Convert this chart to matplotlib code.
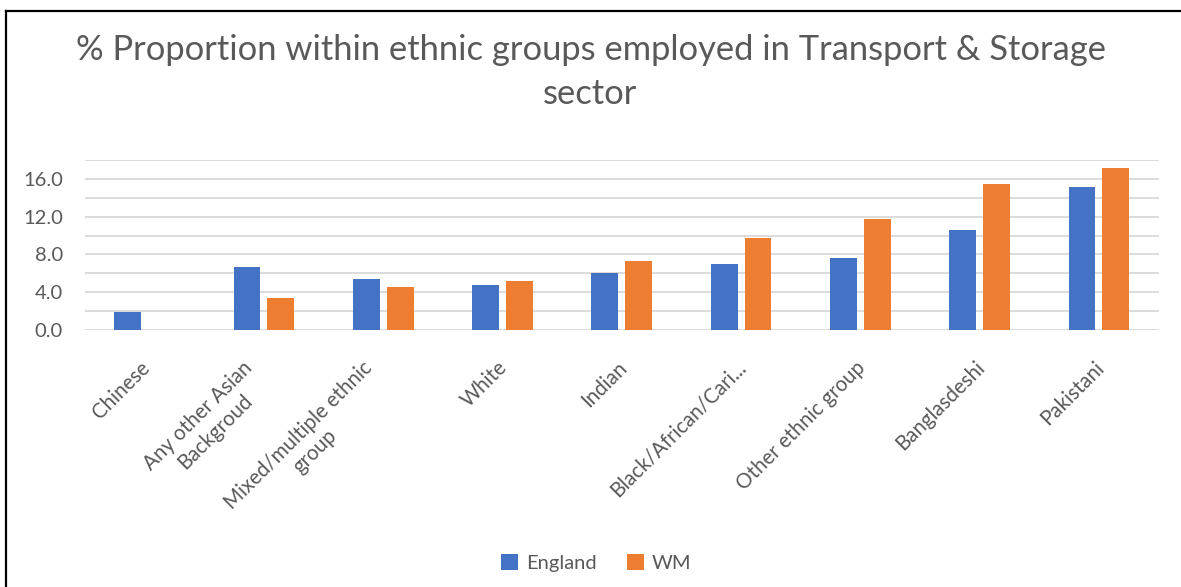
import numpy as np
import matplotlib
matplotlib.use("Agg")
import matplotlib.pyplot as plt
import matplotlib.transforms as mtransforms
from matplotlib.lines import Line2D
from matplotlib.ticker import MultipleLocator

# --- DATA ---
categories = [
    "Chinese",
    "Any other Asian\nBackgroud",
    "Mixed/multiple ethnic\ngroup",
    "White",
    "Indian",
    "Black/African/Cari...",
    "Other ethnic group",
    "Banglasdeshi",
    "Pakistani",
]
england = [1.9, 6.7, 5.4, 4.8, 6.0, 7.0, 7.6, 10.6, 15.2]
wm = [0.0, 3.4, 4.5, 5.2, 7.3, 9.7, 11.8, 15.5, 17.2]

BLUE = "#4472C4"
ORANGE = "#ED7D31"
TEXT = "#595959"
GRID = "#D9D9D9"

plt.rcParams["font.family"] = ["Lato", "DejaVu Sans"]

fig = plt.figure(figsize=(11.81, 5.87), dpi=100)
ax = fig.add_axes([0.072, 0.4383, 0.909, 0.2886])

x = np.arange(len(categories))
width = 0.226
offset = 0.142
ax.bar(x - offset, england, width, color=BLUE, label="England", zorder=3)
ax.bar(x + offset, wm, width, color=ORANGE, label="WM", zorder=3)

ax.set_xlim(-0.5, len(categories) - 0.5)
ax.set_ylim(0, 18)
ax.yaxis.set_major_locator(MultipleLocator(4))
ax.yaxis.set_minor_locator(MultipleLocator(2))
ax.yaxis.set_major_formatter(lambda v, p: f"{v:.1f}")
ax.grid(True, axis="y", which="both", color=GRID, linewidth=1.3, zorder=0)

for s in ax.spines.values():
    s.set_visible(False)

ax.tick_params(axis="y", which="both", length=0, pad=16, labelsize=14.5, labelcolor=TEXT)
ax.tick_params(axis="x", length=0, pad=20, labelsize=14.8, labelcolor=TEXT)
ax.set_xticks(x)
ax.set_xticklabels(categories, rotation=45, ha="right", va="top", multialignment="center")

# nudge the rotated category labels a little to the right
shift = mtransforms.ScaledTranslation(9 / 100, 0, fig.dpi_scale_trans)
for lbl in ax.get_xticklabels():
    lbl.set_transform(lbl.get_transform() + shift)

# two-line chart title
fig.text(0.5, 0.8978, "% Proportion within ethnic groups employed in Transport & Storage",
         ha="center", va="baseline", fontsize=24.8, color=TEXT)
fig.text(0.5, 0.8228, "sector", ha="center", va="baseline", fontsize=24.8, color=TEXT)

leg = fig.legend(loc="center", bbox_to_anchor=(0.505, 0.041), ncol=2, frameon=False,
                 fontsize=14.5, handlelength=0.85, handleheight=0.85, columnspacing=1.5,
                 handletextpad=0.4)
for t in leg.get_texts():
    t.set_color(TEXT)

# black frame along the left and top edges
fig.add_artist(Line2D([0.0055, 0.0055], [0.0, 0.981], color="black", linewidth=1.6,
                      transform=fig.transFigure))
fig.add_artist(Line2D([0.0055, 1.0], [0.981, 0.981], color="black", linewidth=1.6,
                      transform=fig.transFigure))

fig.savefig("out.png", dpi=100, facecolor="white")
